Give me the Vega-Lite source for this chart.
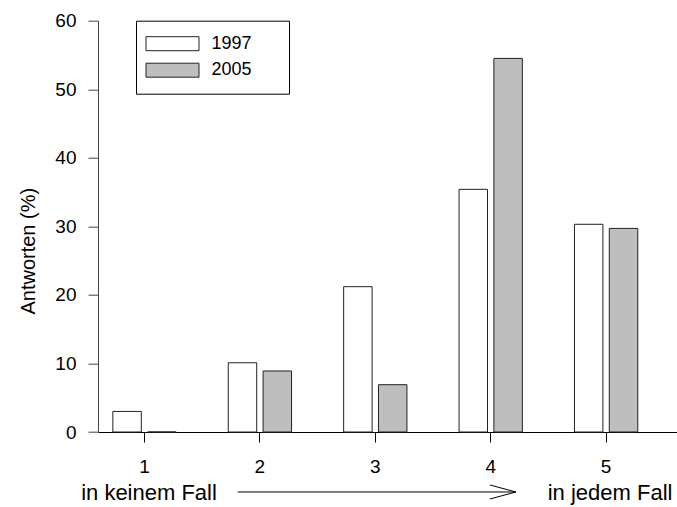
{
  "$schema": "https://vega.github.io/schema/vega-lite/v6.json",
  "width": 579,
  "height": 411.3,
  "autosize": "none",
  "padding": {"left": 98, "top": 20.7, "right": 0, "bottom": 75},
  "background": "white",
  "config": {
    "view": {"stroke": null},
    "font": "Liberation Sans",
    "axis": {"labelFont": "Liberation Sans", "titleFont": "Liberation Sans", "labelColor": "black", "titleColor": "black", "grid": false},
    "legend": {"labelFont": "Liberation Sans", "titleFont": "Liberation Sans"}
  },
  "layer": [
    {
      "data": {"values": [
        {"Antwort": "1", "Jahr": "1997", "Prozent": 3.0},
        {"Antwort": "1", "Jahr": "2005", "Prozent": 0.0},
        {"Antwort": "2", "Jahr": "1997", "Prozent": 10.1},
        {"Antwort": "2", "Jahr": "2005", "Prozent": 8.9},
        {"Antwort": "3", "Jahr": "1997", "Prozent": 21.2},
        {"Antwort": "3", "Jahr": "2005", "Prozent": 6.9},
        {"Antwort": "4", "Jahr": "1997", "Prozent": 35.4},
        {"Antwort": "4", "Jahr": "2005", "Prozent": 54.5},
        {"Antwort": "5", "Jahr": "1997", "Prozent": 30.3},
        {"Antwort": "5", "Jahr": "2005", "Prozent": 29.7}
      ]},
      "mark": {"type": "bar", "stroke": "#222", "strokeWidth": 1},
      "encoding": {
        "x": {
          "field": "Antwort", "type": "nominal",
          "scale": {"paddingInner": 0.4515, "paddingOuter": 0.2344, "align": 0.2745},
          "axis": {"title": null, "labelAngle": 0, "labelFontSize": 19, "labelPadding": 15, "tickSize": 10, "tickColor": "black", "domainColor": "black", "domainWidth": 1}
        },
        "xOffset": {
          "field": "Jahr", "type": "nominal",
          "scale": {"paddingInner": 0.183, "paddingOuter": 0}
        },
        "y": {
          "field": "Prozent", "type": "quantitative",
          "scale": {"domain": [0, 60], "nice": false},
          "axis": {"title": "Antworten (%)", "titleFontSize": 20, "titleFontWeight": "normal", "titleAngle": 270, "titleAlign": "center", "titleBaseline": "middle", "titleX": -70, "titleY": 230, "values": [0, 10, 20, 30, 40, 50, 60], "labelFontSize": 19, "labelPadding": 12, "tickSize": 10, "tickColor": "#444", "domainColor": "#444"}
        },
        "fill": {
          "field": "Jahr", "type": "nominal",
          "scale": {"domain": ["1997", "2005"], "range": ["white", "#bebebe"]},
          "legend": {
            "title": "\u00a0", "titleOrient": "right", "titlePadding": 23, "titleFontSize": 18,
            "orient": "none", "legendX": 38, "legendY": 0,
            "strokeColor": "black", "fillColor": "white", "padding": 14,
            "symbolType": "M-3.786,-1H3.786V1H-3.786Z", "symbolSize": 196,
            "symbolOffset": 13.5,
            "symbolStrokeColor": "#222", "symbolStrokeWidth": 1,
            "labelFontSize": 18, "labelOffset": 30, "rowPadding": 8.5
          }
        }
      }
    },
    {
      "data": {"values": [{"von": 1.808, "bis": 4.218, "hoehe": -8.75}]},
      "mark": {"type": "rule", "color": "black", "strokeWidth": 1},
      "encoding": {
        "x": {"field": "von", "type": "quantitative", "scale": {"domain": [0.597, 5.614], "nice": false, "zero": false}, "axis": null},
        "x2": {"field": "bis"},
        "y": {"field": "hoehe", "type": "quantitative", "scale": {"domain": [0, 60], "nice": false}}
      }
    },
    {
      "data": {"values": [{"bis": 4.218, "hoehe": -8.75}]},
      "mark": {"type": "point", "shape": "M-1,-0.27L0,0L-1,0.27", "size": 2704, "filled": false, "stroke": "black", "strokeWidth": 1, "opacity": 1},
      "encoding": {
        "x": {"field": "bis", "type": "quantitative", "scale": {"domain": [0.597, 5.614], "nice": false, "zero": false}, "axis": null},
        "y": {"field": "hoehe", "type": "quantitative", "scale": {"domain": [0, 60], "nice": false}}
      }
    },
    {
      "data": {"values": [
        {"pos": 1.039, "hoehe": -8.9, "text": "in keinem Fall"},
        {"pos": 5.034, "hoehe": -8.9, "text": "in jedem Fall"}
      ]},
      "mark": {"type": "text", "fontSize": 22, "color": "black", "align": "center", "baseline": "middle", "font": "Liberation Sans"},
      "encoding": {
        "x": {"field": "pos", "type": "quantitative", "scale": {"domain": [0.597, 5.614], "nice": false, "zero": false}, "axis": null},
        "y": {"field": "hoehe", "type": "quantitative", "scale": {"domain": [0, 60], "nice": false}},
        "text": {"field": "text"}
      }
    }
  ],
  "resolve": {"scale": {"x": "independent"}}
}
